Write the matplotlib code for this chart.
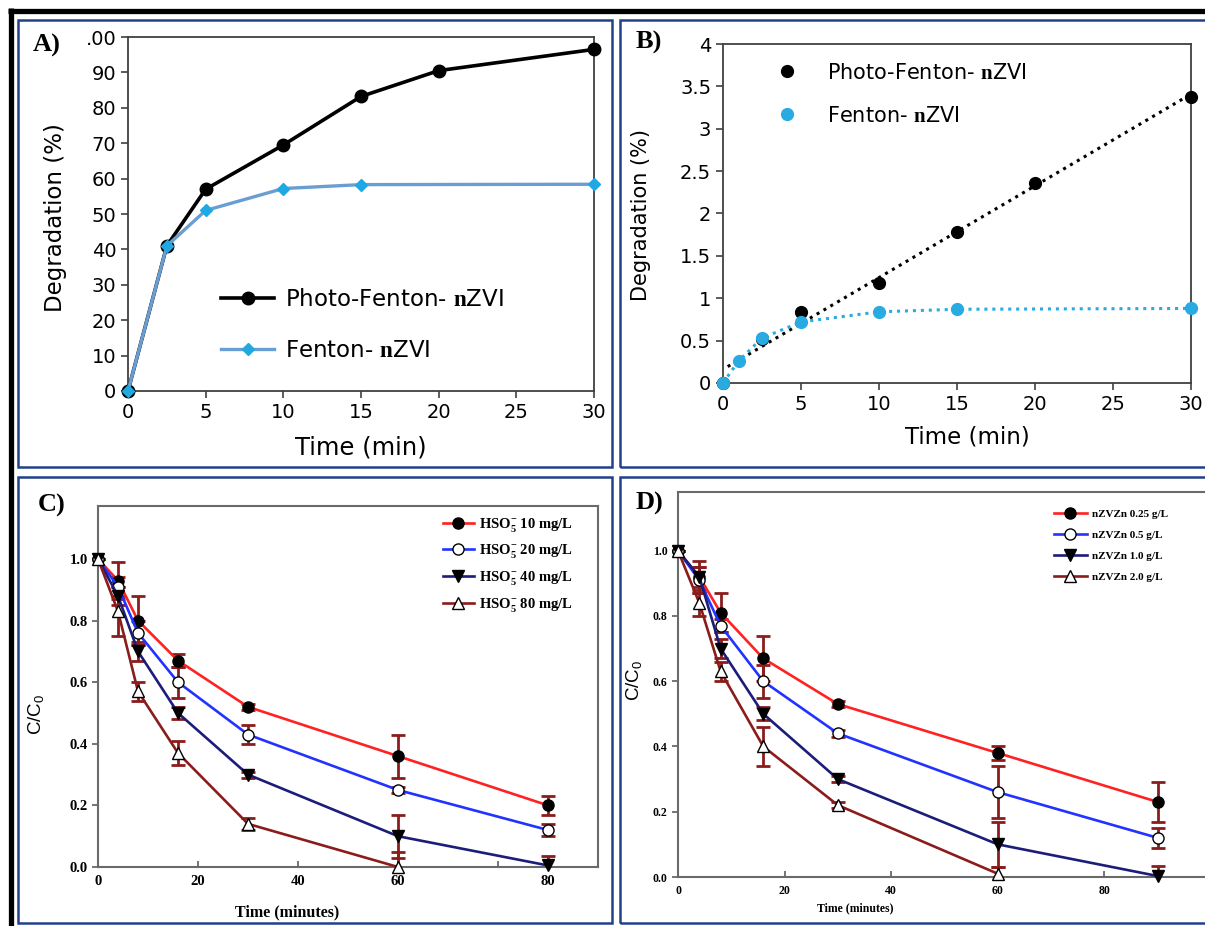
import matplotlib
matplotlib.use("Agg")
import matplotlib.pyplot as plt
import numpy as np
from matplotlib.lines import Line2D
from matplotlib.patches import Rectangle

plt.rcParams['mathtext.fontset'] = 'custom'
plt.rcParams['mathtext.rm'] = 'Liberation Sans'
plt.rcParams['mathtext.bf'] = 'Liberation Serif:bold'
plt.rcParams['mathtext.it'] = 'Liberation Sans:italic'

# ---------------- data ----------------
# Panel A
time_a = [0, 2.5, 5, 10, 15, 20, 30]
photo_a = [0, 41, 57, 69.5, 83.2, 90.5, 96.5]
time_a2 = [0, 2.5, 5, 10, 15, 30]
fenton_a = [0, 41, 51, 57.2, 58.3, 58.4]
yticks_a = [0, 10, 20, 30, 40, 50, 60, 70, 80, 90, 100]
ylabels_a = ['0', '10', '20', '30', '40', '50', '60', '70', '80', '90', '.00']
xticks_ab = [0, 5, 10, 15, 20, 25, 30]

# Panel B
time_b1 = [0, 2.5, 5, 10, 15, 20, 30]
photo_b = [0, 0.52, 0.84, 1.18, 1.78, 2.36, 3.38]
time_b2 = [0, 1, 2.5, 5, 10, 15, 30]
fenton_b = [0, 0.26, 0.53, 0.72, 0.84, 0.87, 0.88]
yticks_b = [0, 0.5, 1, 1.5, 2, 2.5, 3, 3.5, 4]
ylabels_b = ['0', '0.5', '1', '1.5', '2', '2.5', '3', '3.5', '4']

# Panel C
time_c = [0, 4, 8, 16, 30, 60, 90]
time_c_short = [0, 4, 8, 16, 30, 60]
c10 = [1.0, 0.93, 0.80, 0.67, 0.52, 0.36, 0.20]
c10_err = [0, 0.06, 0.08, 0.02, 0.01, 0.07, 0.03]
c20 = [1.0, 0.91, 0.76, 0.60, 0.43, 0.25, 0.12]
c20_err = [0, 0.03, 0.04, 0.05, 0.03, 0.01, 0.02]
c40 = [1.0, 0.88, 0.70, 0.50, 0.30, 0.10, 0.005]
c40_err = [0, 0.03, 0.03, 0.02, 0.01, 0.07, 0.03]
c80 = [1.0, 0.83, 0.57, 0.37, 0.14, 0.0]
c80_err = [0, 0.08, 0.03, 0.04, 0.02, 0.05]
labels_c = [r'HSO$_\mathbf{5}^\mathbf{-}$ 10 mg/L', r'HSO$_\mathbf{5}^\mathbf{-}$ 20 mg/L',
            r'HSO$_\mathbf{5}^\mathbf{-}$ 40 mg/L', r'HSO$_\mathbf{5}^\mathbf{-}$ 80 mg/L']
xticks_c = [0, 20, 40, 60, 80, 90]
xlabels_c = ['0', '20', '40', '60', '', '80']
yticks_cd = [0.0, 0.2, 0.4, 0.6, 0.8, 1.0]
ylabels_cd = ['0.0', '0.2', '0.4', '0.6', '0.8', '1.0']

# Panel D
time_d = [0, 4, 8, 16, 30, 60, 90]
time_d_short = [0, 4, 8, 16, 30, 60]
d025 = [1.0, 0.92, 0.81, 0.67, 0.53, 0.38, 0.23]
d025_err = [0, 0.05, 0.06, 0.07, 0.01, 0.02, 0.06]
d05 = [1.0, 0.91, 0.77, 0.60, 0.44, 0.26, 0.12]
d05_err = [0, 0.04, 0.02, 0.05, 0.01, 0.08, 0.03]
d10 = [1.0, 0.92, 0.70, 0.50, 0.30, 0.10, 0.003]
d10_err = [0, 0.03, 0.03, 0.02, 0.01, 0.07, 0.03]
d20 = [1.0, 0.84, 0.63, 0.40, 0.22, 0.01]
d20_err = [0, 0.04, 0.03, 0.06, 0.01, 0.02]
labels_d = ['nZVZn 0.25 g/L', 'nZVZn 0.5 g/L', 'nZVZn 1.0 g/L', 'nZVZn 2.0 g/L']
xticks_d = [0, 20, 40, 60, 80]

# ---------------- figure ----------------
W, H = 1205, 926
fig = plt.figure(figsize=(W / 100, H / 100), dpi=100)

def ax_px(l, r, t, b):
    return fig.add_axes([l / W, 1 - b / H, (r - l) / W, (b - t) / H])

frame_col = '#23408A'
for (x0, y0, x1, y1) in [(18, 20, 612, 467), (620, 20, 1215, 467), (18, 477, 612, 923), (620, 477, 1215, 923)]:
    fig.patches.append(Rectangle((x0 / W, 1 - y1 / H), (x1 - x0) / W, (y1 - y0) / H,
                                 transform=fig.transFigure, fill=False, ec=frame_col, lw=1.8))
fig.add_artist(Line2D([8 / W, 1.0], [1 - 10.5 / H, 1 - 10.5 / H], color='black', lw=3.8,
                      transform=fig.transFigure, solid_capstyle='butt'))
fig.add_artist(Line2D([10.5 / W, 10.5 / W], [0, 1 - 8 / H], color='black', lw=3.8,
                      transform=fig.transFigure, solid_capstyle='butt'))

sans = 'DejaVu Sans'
serif = 'Liberation Serif'

# ---------- Panel A ----------
axA = ax_px(128, 594, 37, 391)
axA.plot(time_a, photo_a, color='black', lw=2.6, marker='o', ms=9, clip_on=False, zorder=3,
         label=r'Photo-Fenton- $\mathbf{n}$ZVI')
axA.plot(time_a2, fenton_a, color='#6A9ED3', lw=2.4, marker='D', ms=6.5, mfc='#1FA8E2', mec='#1FA8E2',
         clip_on=False, zorder=4, label=r'Fenton- $\mathbf{n}$ZVI')
axA.set_xlim(0, 30)
axA.set_ylim(0, 100)
axA.set_xticks(xticks_ab)
axA.set_yticks(yticks_a)
axA.set_yticklabels(ylabels_a)
axA.tick_params(labelsize=14, direction='out', length=5, width=1.2, color='#404040')
for lab in axA.get_xticklabels() + axA.get_yticklabels():
    lab.set_family(sans)
for s in axA.spines.values():
    s.set_color('#404040'); s.set_linewidth(1.3)
axA.set_xlabel('Time (min)', fontsize=17.5, family=sans)
axA.set_ylabel('Degradation (%)', fontsize=16.5, family=sans)
axA.xaxis.set_label_coords(0.5, -0.125)
axA.yaxis.set_label_coords(-0.13, 0.49)
axA.legend(loc='upper left', bbox_to_anchor=(0.2, 0.29), frameon=False,
           prop={'family': sans, 'size': 16.5}, handlelength=2.3, handletextpad=0.5,
           labelspacing=1.2, borderpad=0, borderaxespad=0)

# ---------- Panel B ----------
axB = ax_px(723, 1191, 44, 383)
fit = np.polyfit(time_b1, photo_b, 1)
xx = np.array([0.3, 30])
axB.plot(xx, np.polyval(fit, xx), color='black', lw=2.2, ls=(0, (1, 1.6)), zorder=2)
axB.plot(time_b2, fenton_b, color='#29ABE2', lw=2.2, ls=(0, (1, 1.6)), zorder=2)
axB.plot(time_b1, photo_b, ls='none', marker='o', ms=8.5, color='black', clip_on=False, zorder=3,
         label=r'Photo-Fenton- $\mathbf{n}$ZVI')
axB.plot(time_b2, fenton_b, ls='none', marker='o', ms=8.5, color='#29ABE2', clip_on=False, zorder=4,
         label=r'Fenton- $\mathbf{n}$ZVI')
axB.set_xlim(0, 30)
axB.set_ylim(0, 4)
axB.set_xticks(xticks_ab)
axB.set_yticks(yticks_b)
axB.set_yticklabels(ylabels_b)
axB.tick_params(labelsize=14, direction='out', length=5, width=1.2, color='#404040')
for lab in axB.get_xticklabels() + axB.get_yticklabels():
    lab.set_family(sans)
for s in axB.spines.values():
    s.set_color('#404040'); s.set_linewidth(1.3)
axB.set_xlabel('Time (min)', fontsize=16.5, family=sans)
axB.set_ylabel('Degradation (%)', fontsize=15, family=sans)
axB.xaxis.set_label_coords(0.523, -0.125)
axB.yaxis.set_label_coords(-0.153, 0.496)
axB.legend(loc='upper left', bbox_to_anchor=(0.115, 0.945), frameon=False,
           prop={'family': sans, 'size': 15}, handlelength=1.0, handletextpad=1.4,
           labelspacing=1.1, borderpad=0, borderaxespad=0)

# ---------- Panels C and D ----------
red = '#FF2222'
blue = '#2233FF'
navy = '#1C1C7A'
brown = '#8B1C1C'
ecol = '#8B1C1C'

def kinetics(ax, series, ylim_top, legend_anchor, legfs, hl, htp, lsp):
    for (x, y, e, col, mk, mfc, lab) in series:
        ax.errorbar(x, y, yerr=e, fmt='none', ecolor=ecol, elinewidth=2, capsize=5, capthick=2,
                    zorder=2.5)
        ax.plot(x, y, color=col, lw=1.9, marker=mk, ms=8, mfc=mfc, mec='black', mew=1.0,
                clip_on=False, zorder=3, label=lab)
    ax.set_xlim(0, 100)
    ax.set_ylim(0, ylim_top)
    for s in ax.spines.values():
        s.set_color('#6A6A6A'); s.set_linewidth(1.5)
    ax.set_yticks(yticks_cd)
    ax.set_yticklabels(ylabels_cd)
    ax.tick_params(axis='x', direction='in', length=4, width=1.3, color='#6A6A6A', pad=6)
    ax.tick_params(axis='y', direction='out', length=4, width=1.3, color='#6A6A6A')
    ax.legend(loc='upper left', bbox_to_anchor=legend_anchor, frameon=False,
              prop={'family': serif, 'weight': 'bold', 'size': legfs}, handlelength=hl,
              handletextpad=htp, labelspacing=lsp, borderpad=0, borderaxespad=0)

axC = ax_px(98, 598, 506, 867)
kinetics(axC, [
    (time_c, c10, c10_err, red, 'o', 'black', labels_c[0]),
    (time_c, c20, c20_err, blue, 'o', 'white', labels_c[1]),
    (time_c, c40, c40_err, navy, 'v', 'black', labels_c[2]),
    (time_c_short, c80, c80_err, brown, '^', 'white', labels_c[3]),
], 1.172, (0.69, 0.973), 10.5, 2.1, 0.35, 0.6)
axC.set_xticks(xticks_c)
axC.set_xticklabels(xlabels_c)
for lab in axC.get_xticklabels() + axC.get_yticklabels():
    lab.set_family(serif); lab.set_weight('bold'); lab.set_fontsize(10.5)
axC.set_xlabel('Time (minutes)', fontsize=11.5, family=serif, weight='bold')
axC.set_ylabel(r'C/C$_0$', fontsize=13.5, family='Liberation Sans')
axC.xaxis.set_label_coords(0.378, -0.103)
axC.yaxis.set_label_coords(-0.104, 0.424)

axD = ax_px(678, 1211, 492, 877)
kinetics(axD, [
    (time_d, d025, d025_err, red, 'o', 'black', labels_d[0]),
    (time_d, d05, d05_err, blue, 'o', 'white', labels_d[1]),
    (time_d, d10, d10_err, navy, 'v', 'black', labels_d[2]),
    (time_d_short, d20, d20_err, brown, '^', 'white', labels_d[3]),
], 1.18, (0.705, 0.955), 8, 3.0, 0.45, 1.0)
axD.set_xticks(xticks_d)
for lab in axD.get_xticklabels() + axD.get_yticklabels():
    lab.set_family(serif); lab.set_weight('bold'); lab.set_fontsize(8.5)
axD.set_xlabel('Time (minutes)', fontsize=8.5, family=serif, weight='bold')
axD.set_ylabel(r'C/C$_0$', fontsize=13.5, family='Liberation Sans')
axD.xaxis.set_label_coords(0.332, -0.066)
axD.yaxis.set_label_coords(-0.063, 0.51)

# panel letters
for txt, x, y in [('A)', 33, 45), ('B)', 636, 42), ('C)', 38, 505), ('D)', 636, 503)]:
    fig.text(x / W, 1 - y / H, txt, fontsize=19, family=serif, weight='bold', va='center', ha='left')

fig.savefig('out.png', dpi=100)
